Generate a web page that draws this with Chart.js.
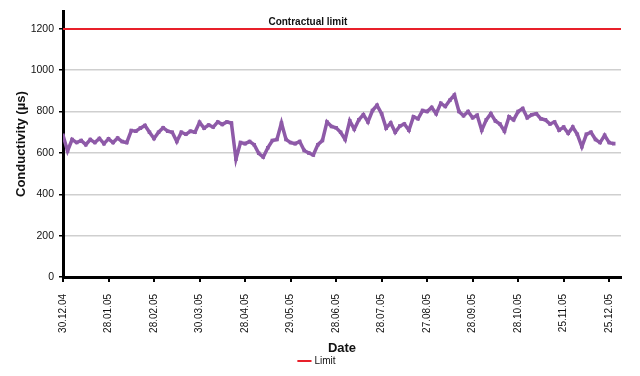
<!DOCTYPE html>
<html lang="en">
<head>
    <meta charset="UTF-8">
    <title>Conductivity</title>
    <script src="https://cdn.jsdelivr.net/npm/chart.js"></script>
    <style>
        body { margin: 0; background: #fff; }
        #wrap { width: 640px; height: 376px; }
    </style>
</head>
<body>
    <div id="wrap"><canvas id="c"></canvas></div>
    <script>
        // tick labels, one every 10 samples
        const dateTicks = ['30.12.04', '28.01.05', '28.02.05', '30.03.05', '28.04.05', '29.05.05', '28.06.05',
            '28.07.05', '27.08.05', '28.09.05', '28.10.05', '25.11.05', '25.12.05'];
        const tickEvery = 10;

        // conductivity readings (µs)
        const conductivity = [
            685, 610, 665, 650, 660, 640, 665, 650, 670, 645,
            668, 650, 672, 655, 650, 708, 705, 720, 733, 700,
            670, 700, 722, 705, 700, 655, 700, 690, 705, 700,
            748, 720, 735, 725, 750, 738, 750, 745, 570, 650,
            645, 655, 640, 598, 580, 625, 660, 665, 745, 665,
            650, 645, 655, 612, 600, 590, 640, 660, 750, 728,
            722, 700, 665, 755, 715, 760, 785, 750, 805, 830,
            790, 720, 745, 700, 730, 740, 710, 775, 765, 805,
            800, 820, 790, 840, 825, 855, 880, 800, 780, 800,
            770, 782, 710, 760, 790, 755, 740, 705, 775, 760,
            800, 815, 770, 785, 790, 765, 760, 740, 750, 710,
            725, 695, 725, 690, 630, 690, 700, 665, 650, 685,
            650, 645
        ];
        const limitValue = 1200;

        const series = conductivity.map((v, i) => ({ x: i, y: v }));
        const limit = [{ x: 0, y: limitValue }, { x: 122.6, y: limitValue }];

        const limitLabel = {
            id: 'limitLabel',
            afterDatasetsDraw(chart) {
                const { ctx, scales } = chart;
                ctx.save();
                ctx.font = 'bold 10px "Liberation Sans", Arial, sans-serif';
                ctx.fillStyle = '#111';
                ctx.textAlign = 'center';
                ctx.textBaseline = 'bottom';
                ctx.fillText('Contractual limit', scales.x.getPixelForValue(53.8), scales.y.getPixelForValue(limitValue) - 2);
                ctx.restore();
            }
        };

        new Chart(document.getElementById('c'), {
            type: 'line',
            data: {
                datasets: [{
                    label: 'Conductivity',
                    data: series,
                    borderColor: '#8e5aa8',
                    backgroundColor: '#8e5aa8',
                    borderWidth: 3.5,
                    pointStyle: 'rect',
                    pointRadius: 2.5,
                    pointBorderWidth: 0,
                    tension: 0
                }, {
                    label: 'Limit',
                    data: limit,
                    borderColor: '#e8202a',
                    backgroundColor: '#e8202a',
                    borderWidth: 2,
                    pointRadius: 0
                }]
            },
            options: {
                responsive: true,
                maintainAspectRatio: false,
                animation: false,
                layout: { padding: { left: 14, top: 3, right: 19, bottom: 0 } },
                plugins: {
                    tooltip: { enabled: false },
                    legend: {
                        position: 'bottom',
                        labels: {
                            filter: item => item.text === 'Limit',
                            usePointStyle: true,
                            pointStyle: 'line',
                            boxWidth: 18,
                            padding: 0,
                            color: '#111',
                            font: { family: '"Liberation Sans", Arial, sans-serif', size: 10 }
                        }
                    }
                },
                scales: {
                    x: {
                        type: 'linear',
                        min: 0,
                        max: 122.6,
                        afterBuildTicks: s => { s.ticks = s.ticks.filter(t => t.value % tickEvery === 0); },
                        afterFit: s => { s.height = 79; },
                        border: { color: '#000', width: 3 },
                        grid: { drawOnChartArea: false, color: '#000', tickLength: 5, lineWidth: 2 },
                        ticks: {
                            stepSize: tickEvery,
                            autoSkip: false,
                            minRotation: 90,
                            maxRotation: 90,
                            padding: 12,
                            color: '#111',
                            font: { family: '"Liberation Sans", Arial, sans-serif', size: 10 },
                            callback: v => dateTicks[v / tickEvery] || ''
                        },
                        title: {
                            display: true,
                            text: 'Date',
                            color: '#111',
                            padding: { top: 2, bottom: 0 },
                            font: { family: '"Liberation Sans", Arial, sans-serif', size: 13, weight: 'bold' }
                        }
                    },
                    y: {
                        min: 0,
                        max: 1285,
                        afterBuildTicks: s => { s.ticks = s.ticks.filter(t => t.value <= 1200); },
                        afterFit: s => { s.width = 49; },
                        border: { color: '#000', width: 3 },
                        grid: { color: '#cfcfcf', lineWidth: 1.5, tickColor: '#000', tickLength: 4 },
                        ticks: {
                            stepSize: 200,
                            padding: 5,
                            color: '#111',
                            font: { family: '"Liberation Sans", Arial, sans-serif', size: 10.5 },
                            callback: v => String(v)
                        },
                        title: {
                            display: true,
                            text: 'Conductivity (µs)',
                            color: '#111',
                            padding: { top: 0, bottom: 2 },
                            font: { family: '"Liberation Sans", Arial, sans-serif', size: 13, weight: 'bold' }
                        }
                    }
                }
            },
            plugins: [limitLabel]
        });
    </script>
</body>
</html>
